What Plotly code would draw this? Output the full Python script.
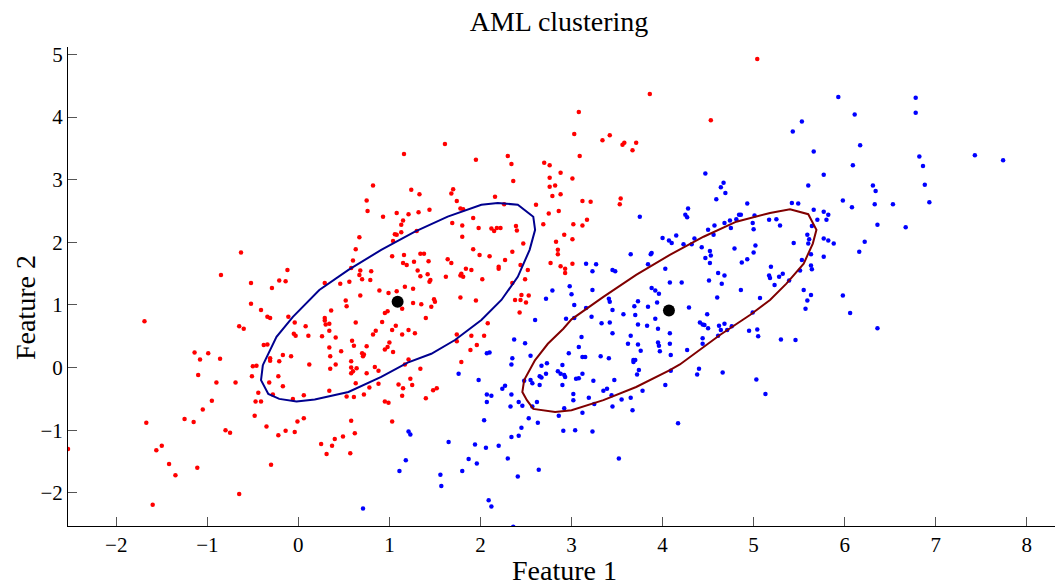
import plotly.graph_objects as go

# ---------------- data ----------------
red_x = [1.61, 1.16, 1.95, 2.30, 2.34, 2.70, 2.76, 2.88, 2.76, 2.36, 0.82, 2.76, 2.82, 1.24, 1.70, 1.68, 1.33, 2.79, 2.88, 0.75, 1.74, 2.16,
         5.04, 3.86, 3.08, 4.53, 3.03, 3.34, 3.42, 3.56, 3.58, 3.71, 3.67, 3.09, 3.01, 3.12, 3.21, 3.54,
         -0.63, -0.85, -0.12, -0.52, -0.21, -0.14, -0.29, -0.52, -0.41, -0.34, -0.31, -0.11, -1.69, -0.65, -0.60, -0.04, 0.08, -0.05, -0.03, 0.11, -0.38, -0.34, -1.14, -1.08, -0.99, -0.86, -0.31, -0.31, -0.17, -0.08, -0.21,
         0.76, 0.93, 1.08, 1.21, 1.32, 1.44, 1.15, 1.13, 1.78, 1.81, 2.26, 2.61, 2.75, 2.86, 1.92, 1.69, 1.80, 1.98, 2.12, 2.15, 2.18, 2.22, 2.39, 2.40, 2.69,
         1.13, 1.06, 1.08, 1.30, 0.67, 1.04, 1.80, 2.92, 2.83, 2.47, 0.63, 1.92, 2.85, 2.85, 2.35, 1.03, 1.16, 1.34, 1.38, 1.99, 2.10, 1.64, 1.68, 1.43, 1.27,
         1.15, 1.19, 2.27, 0.60, 0.58, 2.20, 2.20, 2.77, 2.88, 2.93, 2.93, 2.52, 2.44, 1.84, 1.90, 0.68, 0.80, 1.31, 1.42, 1.34, 1.62, 1.78, 1.79, 1.81, 0.67,
         0.70, 0.79, 0.56, 0.46, 0.29, 1.45, 1.44, 2.02, 2.49, 2.35, 1.17, 1.26, 0.89, 0.99, 1.08, 0.68, 2.45, 2.53, 2.38, 2.44, 2.50, 1.78, 1.95, 0.52, 0.53,
         1.26, 1.35, 1.49, 1.50, 1.46, 1.14, 0.98, 0.95, 0.36, 2.43, 1.40, 0.29, 0.29, 0.30, 0.34, 0.63, 0.92, 1.07, 1.03, 1.21, 0.34, 0.85, 0.82, 1.14, 1.28,
         2.08, 0.26, 0.41, 0.59, 1.74, 1.90, 2.04, 1.74, 1.00, 0.61, 0.75, 0.98, 0.34, 0.95, 1.96, 1.89, 0.47, 1.04, 0.70, 0.72, 0.71, 0.35, 0.58, 1.21, 1.79,
         3.53, 3.02, 3.12, 3.17, 3.01, 3.01,
         -0.50, -0.46, 0.12, -1.10, -0.51, -0.22, -0.90, -0.69, -0.32, -0.17, -0.44, -0.28, 0.06, -0.06, -0.95, -0.47, -0.41, -1.05, -0.48, -1.25,
         -1.67, -1.15, -0.01, 0.06, -0.35, -0.80, -0.75, -0.14, -0.04, -0.22, -2.53, -1.56, -1.50, -1.42, -1.11, -1.35, -0.30, -0.65, -1.60,
         0.35, 0.41, 0.58, 0.64, 0.60, 0.58, 0.75, 0.84, 0.88, 1.17, 1.34, 0.63, 0.88, 0.78, 1.10, 1.15, 1.23, 1.25, 0.34, 0.53, 0.61, 0.72, 1.14, 0.95, 0.99,
         1.40, 1.48, 1.52, 1.03, 0.58, 0.62, 0.49, 0.40, 0.25, 0.37, 0.31, 0.57]
red_y = [3.57, 3.41, 3.32, 3.38, 3.25, 3.27, 3.23, 3.11, 3.03, 2.98, 2.91, 2.89, 2.91, 2.84, 2.85, 2.78, 2.77, 2.74, 2.77, 2.67, 2.66, 2.73,
         4.93, 4.37, 4.08, 3.95, 3.73, 3.63, 3.71, 3.56, 3.59, 3.59, 3.47, 3.38, 3.02, 2.66, 2.65, 2.70,
         1.84, 1.48, 1.56, 1.35, 1.39, 1.38, 1.27, 1.02, 0.92, 0.81, 0.79, 0.81, 0.74, 0.66, 0.62, 0.72, 0.66, 0.54, 0.51, 0.51, 0.36, 0.37, 0.24, 0.13, 0.23, 0.14, 0.15, 0.11, 0.20, 0.18, 0.10,
         2.50, 2.41, 2.47, 2.45, 2.48, 2.52, 2.35, 2.28, 2.54, 2.53, 2.61, 2.60, 2.46, 2.50, 2.39, 2.31, 2.27, 2.23, 2.22, 2.18, 2.23, 2.23, 2.26, 2.19, 2.29,
         2.16, 2.13, 2.12, 2.18, 2.08, 2.02, 2.09, 2.12, 2.01, 1.98, 1.89, 1.89, 1.88, 1.81, 1.85, 1.78, 1.80, 1.82, 1.82, 1.80, 1.78, 1.73, 1.67, 1.70, 1.69,
         1.67, 1.64, 1.72, 1.71, 1.59, 1.61, 1.58, 1.67, 1.62, 1.58, 1.51, 1.56, 1.64, 1.58, 1.56, 1.55, 1.54, 1.55, 1.49, 1.46, 1.45, 1.47, 1.50, 1.45, 1.48,
         1.41, 1.40, 1.37, 1.34, 1.35, 1.40, 1.37, 1.41, 1.41, 1.35, 1.29, 1.26, 1.23, 1.19, 1.22, 1.15, 1.16, 1.15, 1.08, 1.08, 1.04, 1.12, 1.07, 1.07, 0.98,
         1.03, 1.01, 1.09, 1.05, 0.97, 0.94, 0.90, 0.87, 0.91, 0.88, 0.79, 0.79, 0.75, 0.69, 0.70, 0.72, 0.73, 0.67, 0.60, 0.60, 0.59, 0.59, 0.53, 0.53, 0.55,
         0.71, 0.50, 0.48, 0.43, 0.53, 0.51, 0.51, 0.42, 0.40, 0.35, 0.34, 0.33, 0.32, 0.29, 0.36, 0.28, 0.26, 0.25, 0.23, 0.21, 0.18, 0.18, 0.10, 0.13, 0.09,
         2.61, 2.29, 2.27, 2.36, 2.05, 1.66,
         0.02, 0.03, 0.05, -0.12, -0.14, -0.14, -0.24, -0.24, -0.24, -0.30, -0.40, -0.43, -0.44, -0.50, -0.53, -0.54, -0.54, -0.67, -0.77, -0.82,
         -0.88, -0.87, -0.86, -0.81, -0.94, -1.00, -1.04, -1.01, -1.03, -1.08, -1.30, -1.32, -1.25, -1.54, -1.60, -1.72, -1.55, -2.02, -2.19,
         -0.02, 0.05, 0.00, -0.01, -0.06, -0.09, -0.09, 0.01, -0.05, 0.05, -0.02, -0.25, -0.26, -0.32, -0.27, -0.33, -0.18, -0.28, -0.37, -0.46, -0.47, -0.43, -0.45, -0.54, -0.56,
         -0.49, -0.36, -0.33, -0.86, -0.85, -1.05, -1.10, -1.14, -1.22, -1.25, -1.38, -1.37]

blue_x = [5.53, 5.43, 5.66, 5.77, 5.60, 4.47, 4.67, 4.64, 4.69, 4.59,
          5.93, 6.11, 6.78, 6.78, 6.17, 6.82, 7.43, 7.74, 6.09, 6.86, 6.31, 6.34, 6.88, 5.98,
          6.08, 6.33, 6.53, 6.93, 5.82, 5.80, 6.36, 6.67, 5.82, 5.88, 6.22, 6.16, 5.98, 6.06, 6.36,
          2.79, 2.98, 3.00, 2.72, 2.60, 2.94, 2.37, 2.49, 2.97, 2.55, 2.10, 2.07, 2.35,
          4.93, 5.42, 5.49, 4.28, 4.25, 4.27, 3.75, 4.84, 4.86, 5.01, 4.81, 4.74, 4.68, 4.99, 5.17, 5.25, 5.66, 5.77, 5.70, 5.29, 5.64, 4.57, 4.75,
          5.00, 4.50, 4.56, 4.15, 4.00, 4.07, 4.10, 4.35, 4.23, 4.32, 4.43, 5.59, 5.61, 5.77, 5.60, 5.44, 5.02, 4.79, 5.00, 4.52, 4.53, 4.47, 4.52, 3.88, 3.87,
          3.65, 5.63, 5.77, 5.53, 4.93, 4.87, 3.16, 3.27, 3.84, 3.23, 3.45, 3.48, 4.03, 4.61, 4.68, 5.19, 5.17, 5.18, 5.28, 5.32, 5.63, 5.64, 5.51, 5.39, 5.23,
          5.55, 5.63, 5.59, 5.57, 4.08, 4.21, 4.51, 4.65, 4.86, 3.23, 3.88, 3.92, 3.96, 3.03, 4.60, 5.07, 3.41, 3.42, 3.73, 3.94, 3.69, 3.84, 3.16, 3.45, 4.29,
          4.99, 3.57, 3.70, 4.49, 3.22, 3.92, 3.03, 3.33, 3.42, 3.73, 3.83, 4.41, 4.44, 4.46, 4.50, 4.62, 4.68, 4.76, 4.64, 4.71, 3.95, 4.08, 3.45, 4.95, 5.04,
          5.05, 4.61, 4.44, 3.65, 3.11, 5.30, 5.46, 4.44, 3.62, 3.73, 3.95, 3.96, 4.08, 3.08, 3.76, 3.97, 4.27, 4.09, 3.12, 3.15, 3.32, 3.41, 3.68, 3.70,
          1.76, 1.98, 2.34, 2.73, 2.67, 2.90, 2.72, 2.65, 2.67, 2.85, 2.88, 2.92, 2.93, 2.48, 2.55, 2.57, 2.65, 2.90, 2.27, 2.24, 2.34, 2.07, 2.12, 2.07, 2.42,
          2.46, 2.33, 2.62, 2.57, 2.92, 2.53, 2.63, 2.86, 2.04, 2.45, 2.91, 2.34, 2.42, 1.21, 1.23, 1.65, 1.94, 2.06, 2.20, 2.30, 1.87, 1.96, 1.18, 1.11, 1.80,
          1.56, 1.57, 2.41, 2.64, 2.09, 2.12, 0.71, 2.36,
          3.68, 3.12, 3.05, 3.08, 3.24, 3.47, 3.02, 3.02, 3.35, 3.39, 3.44, 3.19, 3.25, 3.45, 3.55, 3.65, 3.78, 3.72, 3.74, 3.67, 3.12, 3.04, 3.23, 3.52,
          4.03, 4.09, 4.17, 4.38, 4.40, 4.66, 5.03, 5.13]
blue_y = [3.93, 3.77, 3.45, 3.08, 2.91, 3.10, 2.95, 2.88, 2.79, 2.69,
          4.32, 4.04, 4.31, 4.07, 3.55, 3.37, 3.39, 3.31, 3.23, 3.22, 2.91, 2.82, 2.92, 2.67,
          2.56, 2.61, 2.61, 2.64, 2.44, 2.36, 2.28, 2.24, 2.03, 1.98, 2.01, 1.85, 1.15, 0.87, 0.63,
          1.23, 1.30, 1.17, 1.10, 0.76, 0.78, 0.45, 0.39, 0.23, 0.19, 0.24, 0.23, 0.15,
          2.62, 2.63, 2.62, 2.54, 2.44, 2.40, 2.41, 2.44, 2.44, 2.43, 2.37, 2.35, 2.31, 2.31, 2.36, 2.37, 2.52, 2.49, 2.36, 2.27, 2.26, 2.27, 2.23,
          2.21, 2.20, 2.12, 2.11, 2.07, 2.03, 1.99, 2.06, 1.97, 1.97, 1.92, 2.12, 2.05, 2.06, 1.98, 1.99, 1.95, 1.90, 1.84, 1.86, 1.79, 1.75, 1.67, 1.83, 1.81,
          1.81, 1.81, 1.77, 1.72, 1.73, 1.68, 1.66, 1.65, 1.65, 1.54, 1.56, 1.54, 1.58, 1.51, 1.47, 1.61, 1.47, 1.43, 1.45, 1.50, 1.63, 1.57, 1.55, 1.39, 1.32,
          1.24, 1.16, 1.07, 0.94, 1.36, 1.36, 1.39, 1.34, 1.24, 1.24, 1.27, 1.23, 1.18, 1.00, 1.12, 1.11, 1.10, 1.05, 1.06, 1.04, 0.98, 0.97, 0.95, 0.92, 0.96,
          0.88, 0.85, 0.84, 0.85, 0.81, 0.78, 0.79, 0.71, 0.72, 0.69, 0.67, 0.72, 0.69, 0.68, 0.63, 0.67, 0.70, 0.66, 0.60, 0.60, 0.62, 0.55, 0.55, 0.59, 0.61,
          0.50, 0.51, 0.47, 0.51, 0.49, 0.45, 0.44, 0.38, 0.38, 0.37, 0.40, 0.35, 0.38, 0.33, 0.27, 0.26, 0.28, 0.20, 0.17, 0.17, 0.18, 0.15, 0.12, 0.12,
          -0.10, -0.20, 0.05, 0.07, 0.03, 0.04, -0.10, -0.14, -0.16, -0.06, -0.10, -0.12, -0.15, -0.21, -0.20, -0.25, -0.28, -0.28, -0.29, -0.34, -0.43, -0.43, -0.45, -0.55, -0.55,
          -0.61, -0.62, -0.55, -0.62, -0.65, -0.81, -0.88, -0.77, -0.84, -0.96, -1.01, -1.11, -1.09, -1.02, -1.07, -1.19, -1.23, -1.28, -1.25, -1.45, -1.46, -1.53, -1.48, -1.65, -1.65,
          -1.71, -1.89, -1.74, -1.63, -2.12, -2.22, -2.25, -2.54,
          0.09, -0.10, -0.18, -0.17, -0.21, -0.20, -0.42, -0.52, -0.37, -0.34, -0.44, -0.48, -0.58, -0.62, -0.51, -0.48, -0.37, -0.11, -0.04, -0.68, -0.72, -1.00, -1.02, -1.45,
          -0.28, -0.05, -0.89, -0.11, -0.02, -0.08, -0.19, -0.42]

# contour of cluster 1 (dark blue) and cluster 2 (dark red)
ell1_x = [-0.39, -0.41, -0.33, -0.21, -0.02, 0.18, 0.55, 0.91, 1.20, 1.46, 1.72, 2.01, 2.23, 2.41, 2.54, 2.60, 2.58, 2.41, 2.19, 2.01, 1.64, 1.28, 0.91, 0.55, 0.23, -0.06, -0.24, -0.39]
ell1_y = [0.04, -0.20, -0.42, -0.50, -0.54, -0.51, -0.39, -0.15, 0.08, 0.22, 0.44, 0.76, 1.08, 1.45, 1.88, 2.20, 2.41, 2.60, 2.63, 2.60, 2.41, 2.17, 1.88, 1.56, 1.24, 0.81, 0.49, 0.04]
ell2_x = [2.60, 2.74, 2.91, 3.00, 3.35, 3.71, 4.08, 4.45, 4.81, 5.18, 5.40, 5.60, 5.69, 5.65, 5.55, 5.36, 5.18, 4.96, 4.63, 4.37, 4.19, 4.08, 3.71, 3.35, 3.00, 2.82, 2.58, 2.51, 2.46, 2.48, 2.60]
ell2_y = [0.12, 0.38, 0.62, 0.77, 1.13, 1.48, 1.80, 2.09, 2.33, 2.47, 2.53, 2.45, 2.20, 1.98, 1.66, 1.34, 1.08, 0.84, 0.52, 0.25, 0.05, -0.04, -0.31, -0.52, -0.68, -0.71, -0.66, -0.52, -0.39, -0.20, 0.12]

center_x = [1.09, 4.07]
center_y = [1.05, 0.91]

x_ticks = [-2, -1, 0, 1, 2, 3, 4, 5, 6, 7, 8]
y_ticks = [-2, -1, 0, 1, 2, 3, 4, 5]

FONT = "Liberation Serif"

fig = go.Figure()
fig.add_trace(go.Scatter(x=red_x, y=red_y, mode="markers",
                         marker=dict(color="#ff0000", size=4.5, line=dict(width=0)), showlegend=False))
fig.add_trace(go.Scatter(x=blue_x, y=blue_y, mode="markers",
                         marker=dict(color="#0000ff", size=4.5, line=dict(width=0)), showlegend=False))
fig.add_trace(go.Scatter(x=ell1_x, y=ell1_y, mode="lines",
                         line=dict(color="#00008f", width=2), showlegend=False))
fig.add_trace(go.Scatter(x=ell2_x, y=ell2_y, mode="lines",
                         line=dict(color="#800000", width=2), showlegend=False))
fig.add_trace(go.Scatter(x=center_x, y=center_y, mode="markers",
                         marker=dict(color="#000000", size=12), showlegend=False))

axis_common = dict(showgrid=False, zeroline=False, showline=True, linecolor="#000000", linewidth=1,
                   ticks="inside", ticklen=9, tickwidth=1, tickcolor="#555555", mirror=False,
                   tickfont=dict(family=FONT, size=21, color="#000000"))

fig.update_layout(
    width=1056, height=585,
    margin=dict(l=68, r=1, t=47, b=59),
    paper_bgcolor="#ffffff", plot_bgcolor="#ffffff",
    title=dict(text="AML clustering", x=0.5294, xanchor="center", y=0.964, yanchor="middle",
               font=dict(family=FONT, size=28, color="#000000")),
    xaxis=dict(range=[-2.53, 8.31], tickvals=x_ticks, **axis_common),
    yaxis=dict(range=[-2.53, 5.12], tickvals=y_ticks, **axis_common),
    annotations=[
        dict(text="Feature 1", xref="paper", yref="paper", x=0.5035, y=-0.092,
             xanchor="center", yanchor="middle", showarrow=False,
             font=dict(family=FONT, size=28, color="#000000")),
        dict(text="Feature 2", xref="paper", yref="paper", x=-0.0436, y=0.457,
             xanchor="center", yanchor="middle", showarrow=False, textangle=-90,
             font=dict(family=FONT, size=28, color="#000000")),
    ],
)

# remove the page's default 8px body margin so the figure fills the 1056x585 window exactly
fig.write_html("out.html", config={"displayModeBar": False},
               post_script="document.body.style.margin='0px';")
